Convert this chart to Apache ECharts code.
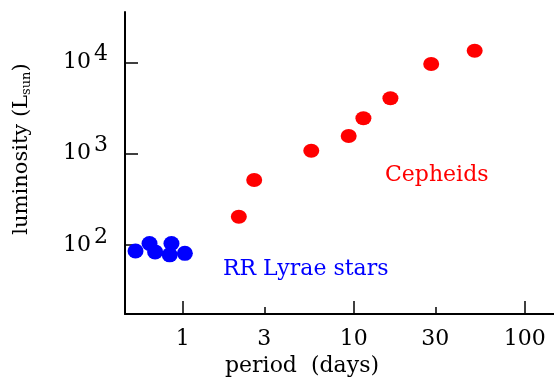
<!DOCTYPE html>
<html>
<head>
<meta charset="utf-8">
<script src="https://cdn.jsdelivr.net/npm/echarts@6/dist/echarts.min.js"></script>
<style>html,body{margin:0;padding:0;background:#fff;}#c{width:554px;height:384px;}</style>
</head>
<body>
<div id="c"></div>
<script>
// Data (period in days, luminosity in solar units)
var rrPeriod = [0.53, 0.64, 0.69, 0.84, 0.86, 1.03];
var rrLum = [86, 104, 84, 78, 104, 81];
var cephPeriod = [2.13, 2.62, 5.65, 9.35, 11.4, 16.4, 28.4, 51];
var cephLum = [204, 515, 1077, 1560, 2438, 4035, 9575, 13400];
var xTickLabels = [1, 3, 10, 30, 100];
var xMajorTicks = [1, 10, 100];
var xMinorTicks = [3, 30];
var yTickExponents = [2, 3, 4];
var xTitle = 'period  (days)';
var yTitle = 'luminosity (L';
var ySub = 'sun';
var rrName = 'RR Lyrae stars';
var cephName = 'Cepheids';

var lg = function (v) { return Math.log10(v); };
function pairs(xs, ys) { return xs.map(function (x, i) { return [lg(x), lg(ys[i])]; }); }

var font = 'DejaVu Serif';
var xMin = lg(0.46), xMax = lg(148.4);
var yMin = lg(17.57), yMax = lg(35530);

var chart = echarts.init(document.getElementById('c'));
chart.setOption({
  backgroundColor: '#fff',
  animation: false,
  grid: { left: 125, right: 0, top: 12, bottom: 70 },
  xAxis: [{
    type: 'value', min: xMin, max: xMax,
    axisLine: { onZero: false, lineStyle: { color: '#000', width: 2 } },
    axisTick: { inside: true, length: 13, customValues: xMajorTicks.map(lg), lineStyle: { color: '#000', width: 1.5 } },
    axisLabel: {
      customValues: xTickLabels.map(lg), margin: 14,
      fontFamily: font, fontSize: 22, color: '#000',
      formatter: function (v) { return String(Math.round(Math.pow(10, v))); }
    },
    splitLine: { show: false }
  }, {
    type: 'value', min: xMin, max: xMax, position: 'bottom',
    axisLine: { show: false, onZero: false },
    axisTick: { inside: true, length: 7, customValues: xMinorTicks.map(lg), lineStyle: { color: '#000', width: 1.5 } },
    axisLabel: { show: false },
    splitLine: { show: false }
  }],
  yAxis: {
    type: 'value', min: yMin, max: yMax,
    axisLine: { onZero: false, lineStyle: { color: '#000', width: 2 } },
    axisTick: { inside: true, length: 13, customValues: yTickExponents, lineStyle: { color: '#000', width: 1.5 } },
    axisLabel: {
      customValues: yTickExponents, margin: 17,
      formatter: function (v) { return '{b|10}{s|' + Math.round(v) + '}'; },
      rich: {
        b: { fontFamily: font, fontSize: 22, color: '#000' },
        s: { fontFamily: font, fontSize: 22, color: '#000', padding: [0, 0, 16, 3] }
      }
    },
    splitLine: { show: false }
  },
  graphic: [
    { type: 'text', x: 22, y: 149, rotation: Math.PI / 2,
      style: { text: '{a|' + yTitle + '}{s|' + ySub + '}{a|)}', align: 'center', verticalAlign: 'middle',
        rich: { a: { fontFamily: font, fontSize: 21, fill: '#000' }, s: { fontFamily: font, fontSize: 13, fill: '#000', padding: [10, 0, 0, 0] } } } },
    { type: 'text', x: 302, y: 366, style: { text: xTitle, font: '22px "DejaVu Serif"', fill: '#000', align: 'center', verticalAlign: 'middle' } },
    { type: 'text', x: 223, y: 269, style: { text: rrName, font: '22px "DejaVu Serif"', fill: '#0000ff', align: 'left', verticalAlign: 'middle' } },
    { type: 'text', x: 385, y: 175, style: { text: cephName, font: '22px "DejaVu Serif"', fill: '#ff0000', align: 'left', verticalAlign: 'middle' } }
  ],
  series: [
    { type: 'scatter', name: rrName, data: pairs(rrPeriod, rrLum), symbol: 'circle', symbolSize: [16, 15], itemStyle: { color: '#0000ff', opacity: 1 } },
    { type: 'scatter', name: cephName, data: pairs(cephPeriod, cephLum), symbol: 'circle', symbolSize: [16, 14], itemStyle: { color: '#ff0000', opacity: 1 } }
  ]
});
</script>
</body>
</html>
